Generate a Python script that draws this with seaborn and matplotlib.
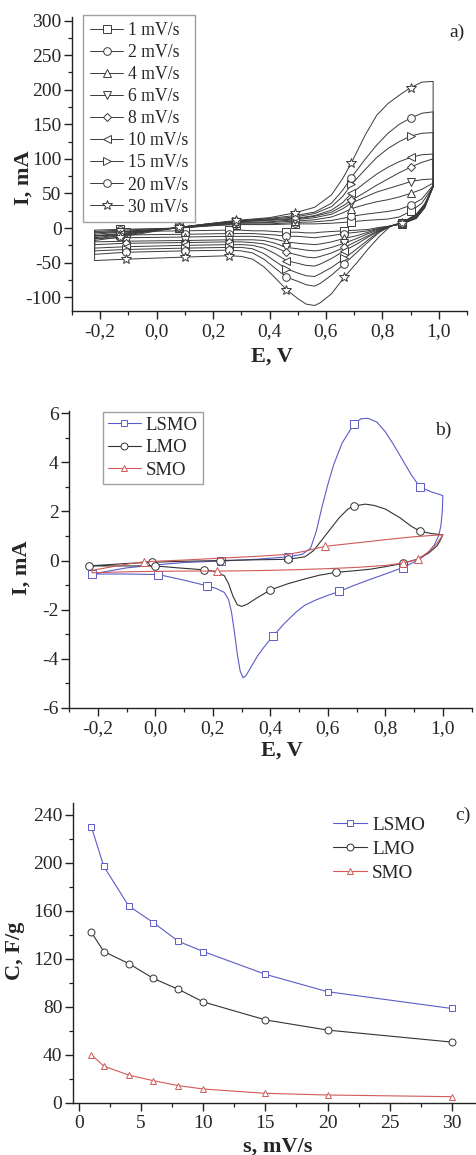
import numpy as np
import pandas as pd
import matplotlib
matplotlib.use("Agg")
import matplotlib.pyplot as plt
from matplotlib.lines import Line2D
from matplotlib.ticker import MultipleLocator, AutoMinorLocator, FuncFormatter
import seaborn as sns

sns.set_style("ticks")
plt.rcParams['font.family'] = ['Liberation Serif', 'DejaVu Serif']
plt.rcParams['axes.unicode_minus'] = False

# ---------------- a) CV curves at different scan rates ----------------
rate_labels = ["1 mV/s", "2 mV/s", "4 mV/s", "6 mV/s", "8 mV/s",
               "10 mV/s", "15 mV/s", "20 mV/s", "30 mV/s"]
rate_markers = ["s", "o", "^", "v", "D", "<", ">", "o", "*"]

e_anodic = [-0.22, -0.13, 0.08, 0.18, 0.28, 0.40, 0.49, 0.56, 0.62,
            0.66, 0.69, 0.74, 0.78, 0.82, 0.86, 0.90, 0.94, 0.98]
e_cathodic = [0.98, 0.95, 0.92, 0.87, 0.83, 0.79, 0.75, 0.71, 0.665, 0.62, 0.58, 0.56,
              0.53, 0.50, 0.46, 0.42, 0.38, 0.34, 0.30, 0.255, 0.10, -0.11, -0.22]
mark_anodic = [1, 2, 4, 6, 10, 15]
mark_cathodic = [3, 8, 14, 19, 20, 21]

an_1 = [-3, -2, 0, 3, 5, 5, 6, 6, 7, 8, 9, 11, 12, 13, 16, 24, 36, 60]
an_2 = [-5, -3, 0, 3, 6, 6, 8, 9, 11, 14, 17, 20, 22, 24, 27, 33, 42, 62]
an_4 = [-7, -5, 0, 4, 7, 8, 10, 12, 16, 22, 28, 34, 38, 41, 45, 50, 56, 65]
an_6 = [-9, -6, 0, 4, 8, 9, 12, 15, 20, 28, 36, 45, 52, 57, 62, 67, 70, 71]
an_8 = [-11, -8, 1, 5, 9, 11, 13, 17, 23, 32, 40, 52, 62, 71, 80, 88, 95, 100]
an_10 = [-12, -9, 1, 5, 9, 12, 14, 18, 26, 37, 50, 66, 78, 88, 96, 102, 106, 107]
an_15 = [-14, -10, 1, 6, 10, 13, 16, 21, 31, 46, 63, 85, 102, 115, 125, 133, 137, 138]
an_20 = [-16, -11, 1, 6, 10, 14, 18, 23, 36, 55, 73, 100, 120, 137, 150, 159, 166, 168]
an_30 = [-18, -13, 1, 6, 11, 15, 22, 30, 48, 72, 94, 135, 163, 180, 192, 203, 211, 212]

ca_1 = [60, 29, 14, 6, 3, 1, -2, -3, -4, -5, -6, -7, -7, -6, -6, -5, -4, -4, -3, -3, -4, -5, -6]
ca_2 = [60, 30, 14, 6, 3, 0, -4, -6, -8, -11, -13, -14, -13, -12, -12, -10, -9, -8, -8, -8, -9, -10, -11]
ca_4 = [60, 30, 15, 7, 3, -1, -6, -11, -15, -20, -23, -24, -23, -22, -20, -16, -13, -12, -12, -12, -13, -14, -15]
ca_6 = [60, 31, 15, 7, 3, -2, -8, -15, -22, -28, -32, -33, -32, -30, -28, -22, -18, -17, -17, -17, -18, -19, -20]
ca_8 = [60, 32, 16, 7, 3, -3, -11, -19, -28, -36, -41, -43, -42, -39, -35, -28, -23, -21, -20, -20, -21, -22, -24]
ca_10 = [60, 32, 17, 7, 3, -4, -13, -23, -33, -44, -52, -55, -54, -51, -47, -37, -29, -25, -24, -24, -25, -27, -29]
ca_15 = [60, 33, 18, 8, 3, -5, -17, -30, -44, -57, -66, -70, -69, -65, -59, -48, -37, -30, -28, -28, -29, -31, -33]
ca_20 = [60, 34, 19, 8, 3, -6, -20, -35, -52, -68, -80, -84, -82, -77, -71, -58, -45, -36, -33, -32, -33, -35, -38]
ca_30 = [60, 35, 20, 8, 3, -12, -30, -50, -71, -95, -108, -112, -110, -102, -89, -72, -56, -45, -41, -40, -42, -45, -47]

anodic_all = [an_1, an_2, an_4, an_6, an_8, an_10, an_15, an_20, an_30]
cathodic_all = [ca_1, ca_2, ca_4, ca_6, ca_8, ca_10, ca_15, ca_20, ca_30]

# ---------------- b) CV of the three oxides ----------------
materials = ["LSMO", "LMO", "SMO"]
mat_colors = ["#5c5cc8", "#333333", "#d05a5a"]
mat_markers = ["s", "o", "^"]

lsmo_e_an = [-0.22, -0.1, 0.0, 0.1, 0.23, 0.35, 0.46, 0.51, 0.54, 0.56, 0.58, 0.60, 0.62,
             0.65, 0.69, 0.715, 0.74, 0.77, 0.80, 0.83, 0.86, 0.89, 0.92, 0.96, 1.0]
lsmo_i_an = [-0.55, -0.3, -0.18, -0.08, -0.02, 0.05, 0.15, 0.25, 0.5, 1.2, 2.2, 3.1, 3.9,
             4.8, 5.55, 5.78, 5.8, 5.65, 5.25, 4.7, 4.1, 3.5, 3.0, 2.8, 2.65]
lsmo_e_ca = [1.0, 0.998, 0.993, 0.985, 0.97, 0.95, 0.92, 0.89, 0.86, 0.80, 0.74, 0.69,
             0.64, 0.60, 0.56, 0.52, 0.49, 0.45, 0.41, 0.38, 0.355, 0.33, 0.315, 0.305,
             0.295, 0.285, 0.275, 0.265, 0.255, 0.24, 0.21, 0.18, 0.1, 0.01, -0.1, -0.22]
lsmo_i_ca = [2.65, 2.0, 1.4, 1.0, 0.63, 0.35, 0.06, -0.12, -0.29, -0.55, -0.8, -1.02,
             -1.26, -1.42, -1.6, -1.82, -2.1, -2.55, -3.08, -3.5, -3.9, -4.4, -4.7, -4.78,
             -4.5, -3.8, -2.9, -2.1, -1.6, -1.3, -1.13, -1.03, -0.8, -0.57, -0.55, -0.55]
lsmo_mk_an = [0, 4, 6, 14, 22]
lsmo_mk_ca = [8, 12, 18, 31, 33]

lmo_e_an = [-0.23, -0.1, -0.01, 0.1, 0.225, 0.35, 0.46, 0.52, 0.55, 0.58, 0.61, 0.64,
            0.67, 0.69, 0.73, 0.76, 0.80, 0.85, 0.89, 0.92, 0.96, 1.0]
lmo_i_an = [-0.22, -0.12, -0.07, -0.03, 0.0, 0.03, 0.05, 0.15, 0.4, 0.85, 1.3, 1.75,
            2.1, 2.22, 2.3, 2.25, 2.1, 1.75, 1.4, 1.2, 1.1, 1.05]
lmo_e_ca = [1.0, 0.99, 0.98, 0.95, 0.91, 0.86, 0.80, 0.75, 0.69, 0.63, 0.57, 0.52, 0.46,
            0.40, 0.35, 0.32, 0.30, 0.285, 0.27, 0.255, 0.24, 0.21, 0.17, 0.08, 0.0, -0.1, -0.23]
lmo_i_ca = [1.05, 0.8, 0.6, 0.3, 0.05, -0.12, -0.25, -0.35, -0.42, -0.48, -0.6, -0.75, -0.95,
            -1.2, -1.55, -1.78, -1.87, -1.8, -1.45, -0.95, -0.62, -0.45, -0.38, -0.3, -0.22, -0.22, -0.22]
lmo_mk_an = [0, 2, 4, 6, 13, 19]
lmo_mk_ca = [5, 9, 13, 22, 24]

smo_e_an = [-0.22, -0.1, -0.04, 0.1, 0.2, 0.35, 0.46, 0.52, 0.59, 0.7, 0.8, 0.9, 0.97, 1.0]
smo_i_an = [-0.4, -0.15, -0.05, 0.02, 0.08, 0.17, 0.25, 0.38, 0.58, 0.72, 0.85, 0.97, 1.03, 1.05]
smo_e_ca = [1.0, 0.98, 0.95, 0.914, 0.863, 0.8, 0.7, 0.6, 0.5, 0.4, 0.3, 0.215, 0.1, 0.0, -0.1, -0.22]
smo_i_ca = [1.05, 0.7, 0.35, 0.06, -0.1, -0.2, -0.28, -0.33, -0.37, -0.4, -0.42, -0.43, -0.43, -0.44, -0.46, -0.5]
smo_mk_an = [2, 8]
smo_mk_ca = [3, 4, 11]

cv_b = [(lsmo_e_an, lsmo_i_an, lsmo_e_ca, lsmo_i_ca, lsmo_mk_an, lsmo_mk_ca),
        (lmo_e_an, lmo_i_an, lmo_e_ca, lmo_i_ca, lmo_mk_an, lmo_mk_ca),
        (smo_e_an, smo_i_an, smo_e_ca, smo_i_ca, smo_mk_an, smo_mk_ca)]

# ---------------- c) capacitance vs scan rate ----------------
scan_rate = [1, 2, 4, 6, 8, 10, 15, 20, 30]
cap_lsmo = [230, 197, 164, 150, 134.5, 126, 107, 92.5, 78.5]
cap_lmo = [142, 126, 116, 103.5, 94.5, 84, 69, 60.5, 50.5]
cap_smo = [40, 30.5, 23, 18.3, 14.2, 11.4, 7.8, 6.4, 5.0]


def comma(v, pos):
    return f"{v:.1f}".replace(".", ",")


def style_axes(ax):
    sns.despine(ax=ax)
    for s in ["left", "bottom"]:
        ax.spines[s].set_linewidth(1.0)
        ax.spines[s].set_color("#222222")
    ax.xaxis.set_minor_locator(AutoMinorLocator(2))
    ax.yaxis.set_minor_locator(AutoMinorLocator(2))
    ax.tick_params(which="major", direction="out", length=5.5, width=1.0, labelsize=14, color="#222222")
    ax.tick_params(which="minor", direction="out", length=3, width=0.9, color="#222222")
    ax.tick_params(axis="x", which="major", pad=3.5)
    ax.tick_params(axis="y", which="major", pad=2)


fig = plt.figure(figsize=(4.77, 11.55), dpi=100)
lbl_font = dict(fontsize=16, fontweight="bold")

# ---- panel a
ax1 = fig.add_axes([0.151, 0.7307, 0.828, 0.2545])
line_col = "#3a3a3a"
for k in range(len(rate_labels)):
    path_e = e_anodic + e_cathodic + [e_anodic[0]]
    path_i = anodic_all[k] + cathodic_all[k] + [anodic_all[k][0]]
    marks = mark_anodic + [len(e_anodic) + j for j in mark_cathodic]
    df = pd.DataFrame({"E": path_e, "I": path_i})
    ms = 7 if rate_markers[k] == "*" else (4.5 if rate_markers[k] == "D" else 5.5)
    sns.lineplot(data=df, x="E", y="I", sort=False, estimator=None, ax=ax1,
                 color=line_col, lw=0.7, marker=rate_markers[k], markevery=marks,
                 ms=ms, mfc="white", mec=line_col, mew=0.7)
ax1.set_xlim(-0.3, 1.1)
ax1.set_ylim(-120, 305)
ax1.xaxis.set_major_locator(MultipleLocator(0.2))
ax1.yaxis.set_major_locator(MultipleLocator(50))
ax1.xaxis.set_major_formatter(FuncFormatter(comma))
style_axes(ax1)
ax1.set_xlabel("E, V", **lbl_font)
ax1.set_ylabel("I, mA", **lbl_font)
ax1.xaxis.set_label_coords(0.506, -0.122)
ax1.yaxis.set_label_coords(-0.098, 0.452)
handles_a = []
for k in range(len(rate_labels)):
    ms = 7 if rate_markers[k] == "*" else (4.5 if rate_markers[k] == "D" else 5.5)
    handles_a.append(Line2D([0], [0], color=line_col, lw=0.7, marker=rate_markers[k], ms=ms,
                            mfc="white", mec=line_col, mew=0.7, label=rate_labels[k]))
leg = ax1.legend(handles=handles_a, loc="upper left", bbox_to_anchor=(0.028, 1.007),
                 borderaxespad=0, fontsize=12.7, frameon=True, fancybox=False,
                 edgecolor="#888888", handlelength=1.9, handletextpad=0.25,
                 labelspacing=0.29, borderpad=0.38, numpoints=1)
leg.get_frame().set_linewidth(1.0)
ax1.text(0.975, 0.949, "a)", transform=ax1.transAxes, fontsize=14, ha="center", va="center")

# ---- panel b
ax2 = fig.add_axes([0.1447, 0.3873, 0.844, 0.2569])
handles_b = []
for k, (e_an, i_an, e_ca, i_ca, mk_an, mk_ca) in enumerate(cv_b):
    path_e = e_an + e_ca + [e_an[0]]
    path_i = i_an + i_ca + [i_an[0]]
    marks = mk_an + [len(e_an) + j for j in mk_ca]
    df = pd.DataFrame({"E": path_e, "I": path_i})
    sns.lineplot(data=df, x="E", y="I", sort=False, estimator=None, ax=ax2,
                 color=mat_colors[k], lw=0.8, marker=mat_markers[k], markevery=marks,
                 ms=5.5, mfc="white", mec=mat_colors[k], mew=0.7)
    handles_b.append(Line2D([0], [0], color=mat_colors[k], lw=0.8, marker=mat_markers[k], ms=5,
                            mfc="white", mec=mat_colors[k], mew=0.7, label=materials[k]))
ax2.set_xlim(-0.3, 1.1)
ax2.set_ylim(-6, 6.1)
ax2.xaxis.set_major_locator(MultipleLocator(0.2))
ax2.yaxis.set_major_locator(MultipleLocator(2))
ax2.xaxis.set_major_formatter(FuncFormatter(comma))
style_axes(ax2)
ax2.set_xlabel("E, V", **lbl_font)
ax2.set_ylabel("I, mA", **lbl_font)
ax2.xaxis.set_label_coords(0.530, -0.112)
ax2.yaxis.set_label_coords(-0.092, 0.471)
leg = ax2.legend(handles=handles_b, loc="upper left", bbox_to_anchor=(0.084, 0.998),
                 borderaxespad=0, fontsize=13.5, frameon=True, fancybox=False,
                 edgecolor="#888888", handlelength=1.75, handletextpad=0.25,
                 labelspacing=0.28, borderpad=0.28, numpoints=1)
leg.get_frame().set_linewidth(1.0)
ax2.text(0.929, 0.936, "b)", transform=ax2.transAxes, fontsize=14, ha="center", va="center")

# ---- panel c
ax3 = fig.add_axes([0.1524, 0.0453, 0.847, 0.2597])
for k, cap in enumerate([cap_lsmo, cap_lmo, cap_smo]):
    df = pd.DataFrame({"s": scan_rate, "C": cap})
    sns.lineplot(data=df, x="s", y="C", ax=ax3, color=mat_colors[k], lw=0.8,
                 marker=mat_markers[k], ms=5, mfc="white", mec=mat_colors[k], mew=0.7,
                 label=materials[k])
ax3.set_xlim(-0.5, 32)
ax3.set_ylim(0, 250)
ax3.xaxis.set_major_locator(MultipleLocator(5))
ax3.yaxis.set_major_locator(MultipleLocator(40))
style_axes(ax3)
ax3.set_xlabel("s, mV/s", **lbl_font)
ax3.set_ylabel("C, F/g", **lbl_font)
ax3.xaxis.set_label_coords(0.508, -0.112)
ax3.yaxis.set_label_coords(-0.118, 0.506)
h3, l3 = ax3.get_legend_handles_labels()
ax3.legend(h3, l3, loc="upper left", bbox_to_anchor=(0.644, 0.955), borderaxespad=0,
           fontsize=13.8, frameon=False, handlelength=1.8, handletextpad=0.25,
           labelspacing=0.34, borderpad=0, numpoints=1)
ax3.text(0.966, 0.959, "c)", transform=ax3.transAxes, fontsize=14, ha="center", va="center")

fig.savefig("out.png", dpi=100)
